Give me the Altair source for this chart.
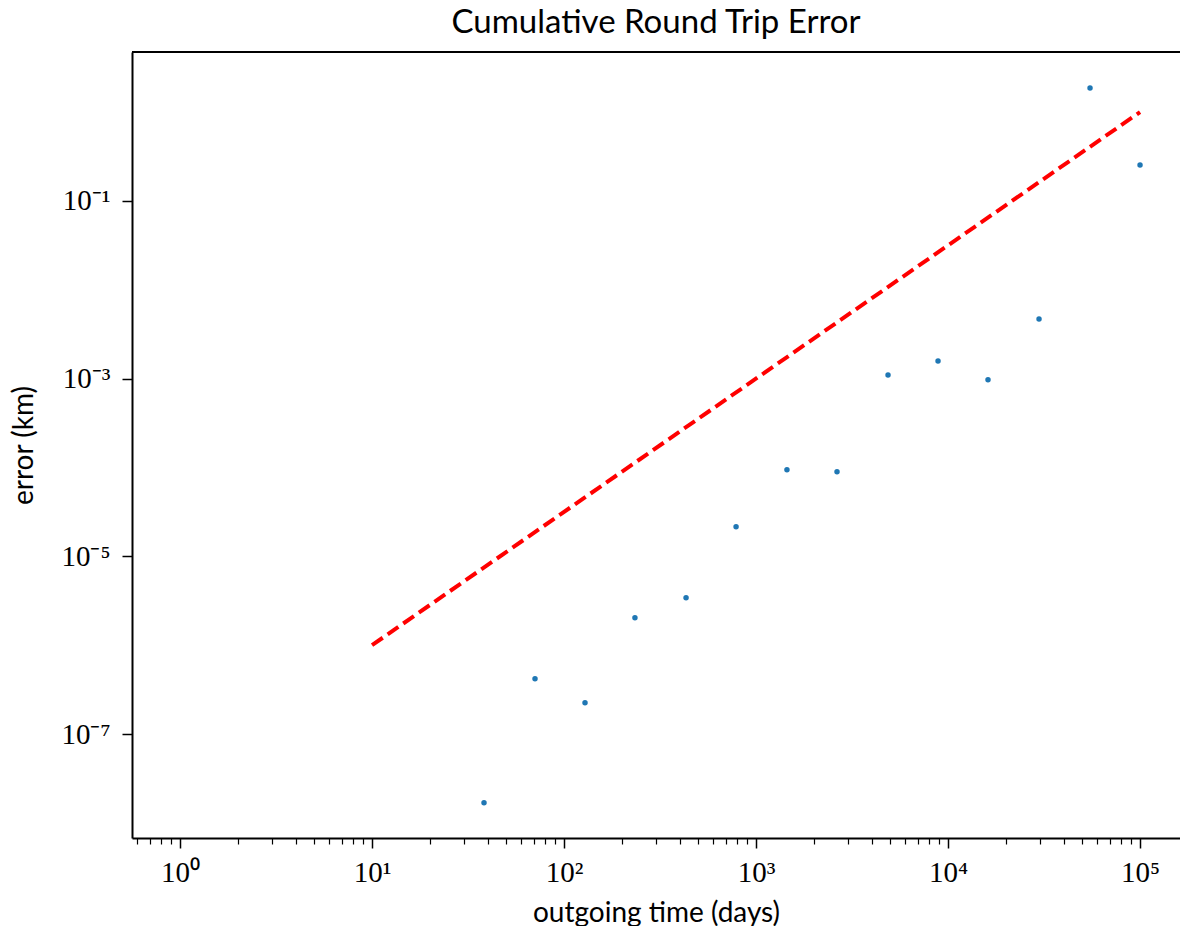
import altair as alt
import pandas as pd

# Data
time_days = [38.3, 70.6, 128.6, 234, 432, 787, 1449, 2641, 4869, 8870, 16150, 29780, 54900, 100000]
error_km = [1.69e-8, 4.2e-7, 2.25e-7, 2.04e-6, 3.42e-6, 2.15e-5, 9.4e-5, 8.95e-5,
            1.10e-3, 1.58e-3, 9.7e-4, 4.7e-3, 1.87, 0.254]
ref_time = [10, 100000]
ref_error = [1e-6, 1.0]

x_major = [1, 10, 100, 1000, 10000, 100000]
x_minor = [0.6, 0.7, 0.8, 0.9] + [m * 10 ** d for d in range(0, 5) for m in range(2, 10)]
y_major = [1e-1, 1e-3, 1e-5, 1e-7]

pts = pd.DataFrame({"t": time_days, "e": error_km})
ref = pd.DataFrame({"t": ref_time, "e": ref_error})

W, H = 1048, 786
xscale = alt.Scale(type="log", domain=[0.562, 161500], nice=False)
yscale = alt.Scale(type="log", domain=[6.76e-9, 4.74], nice=False)

LABEL_FONT = "Liberation Serif"
TEXT_FONT = "Lato"

sup = "['⁰','¹','²','³','⁴','⁵','⁶','⁷','⁸','⁹']"

points = alt.Chart(pts).mark_circle(size=30, color="#1f77b4", opacity=1).encode(
    x=alt.X("t:Q", scale=xscale, title="outgoing time (days)",
            axis=alt.Axis(orient="bottom", values=x_major, tickSize=10, tickWidth=1.5,
                          labelExpr="'10' + " + sup + "[round(log(datum.value)/LN10)]",
                          labelFont=LABEL_FONT, labelFontSize=29, labelPadding=10,
                          titleFont=TEXT_FONT, titleFontSize=28, titleFontWeight="normal",
                          titlePadding=12, grid=False)),
    y=alt.Y("e:Q", scale=yscale, title="error (km)",
            axis=alt.Axis(orient="left", values=y_major, tickSize=10, tickWidth=1.5,
                          labelExpr="'10⁻' + " + sup + "[-round(log(datum.value)/LN10)]",
                          labelFont=LABEL_FONT, labelFontSize=29, labelPadding=12,
                          titleFont=TEXT_FONT, titleFontSize=28, titleFontWeight="normal",
                          titlePadding=22, grid=False)),
)

line = alt.Chart(ref).mark_line(color="#ff0000", strokeWidth=4, strokeDash=[13, 6]).encode(
    x=alt.X("t:Q", scale=xscale, title=None,
            axis=alt.Axis(orient="bottom", values=x_minor, tickSize=6, tickWidth=1.2,
                          labels=False, domain=False, grid=False)),
    y=alt.Y("e:Q", scale=yscale, axis=None),
)

top_border = alt.Chart(pd.DataFrame({"a": [0]})).mark_rule(color="black", strokeWidth=2).encode(
    x=alt.value(0), x2=alt.value(W), y=alt.value(0)
)

chart = alt.layer(points, line, top_border).resolve_axis(x="independent", y="independent").properties(
    width=W, height=H,
    title=alt.TitleParams("Cumulative Round Trip Error", font=TEXT_FONT, fontSize=33,
                          fontWeight="normal", offset=11, color="black"),
    autosize=alt.AutoSizeParams(type="none"),
    padding={"left": 132, "top": 52, "right": 0, "bottom": 88},
).configure_view(stroke=None).configure_axis(
    domainColor="black", domainWidth=2, tickColor="black", labelColor="black", titleColor="black"
)

chart.save("out.html", embed_options={"renderer": "svg", "actions": False})
